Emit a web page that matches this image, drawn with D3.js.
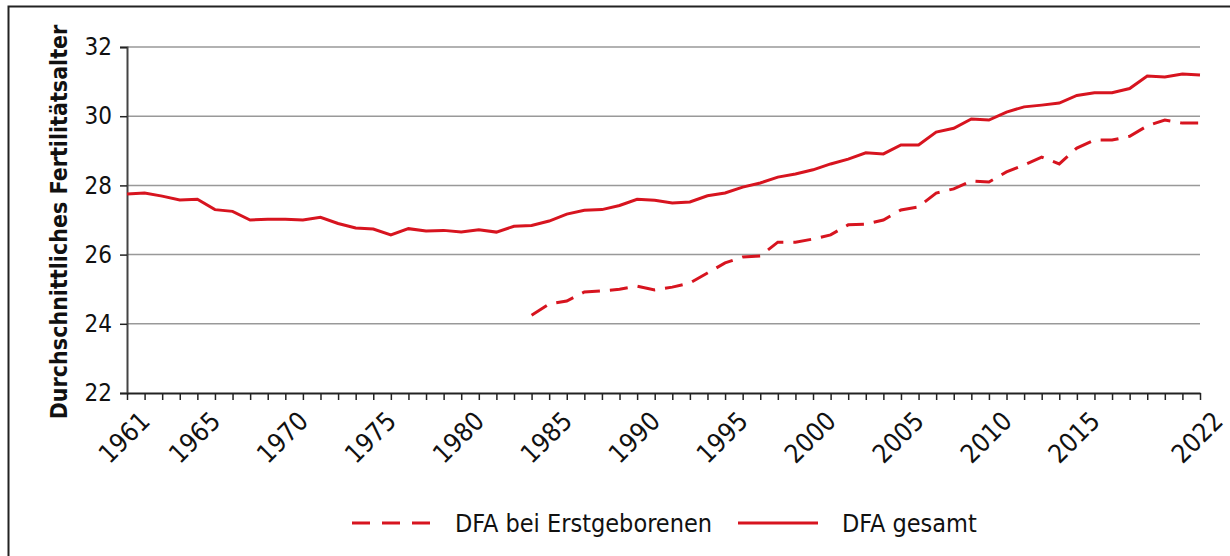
<!DOCTYPE html>
<html>
<head>
<meta charset="utf-8">
<script src="https://cdn.jsdelivr.net/npm/d3@7"></script>
<style>
  body { margin: 0; background: #fff; }
  text { font-family: "DejaVu Sans Condensed", "DejaVu Sans", sans-serif; fill: #111; }
</style>
</head>
<body>
<div id="chart"></div>
<script>
// Data
var years = d3.range(1961, 2023);
var dfaGesamt = [27.75, 27.78, 27.69, 27.58, 27.6, 27.3, 27.25, 27.0, 27.02, 27.02,
  27.0, 27.08, 26.9, 26.77, 26.74, 26.57, 26.75, 26.68, 26.7, 26.65,
  26.72, 26.65, 26.82, 26.84, 26.97, 27.17, 27.28, 27.3, 27.42, 27.6,
  27.57, 27.49, 27.52, 27.7, 27.78, 27.95, 28.07, 28.24, 28.33, 28.45,
  28.62, 28.76, 28.94, 28.91, 29.17, 29.17, 29.54, 29.65, 29.92, 29.89,
  30.12, 30.27, 30.32, 30.38, 30.6, 30.68, 30.68, 30.8, 31.16, 31.13,
  31.22, 31.19];
var ersteYears = d3.range(1984, 2023);
var dfaErste = [24.25, 24.57, 24.66, 24.92, 24.95, 25.0, 25.09, 24.98, 25.06, 25.18,
  25.47, 25.76, 25.93, 25.96, 26.36, 26.36, 26.45, 26.57, 26.86, 26.88,
  27.0, 27.29, 27.38, 27.78, 27.9, 28.13, 28.1, 28.39, 28.59, 28.82,
  28.62, 29.08, 29.31, 29.31, 29.42, 29.72, 29.89, 29.8, 29.8];
var yTicks = [22, 24, 26, 28, 30, 32];
var xLabels = [1961, 1965, 1970, 1975, 1980, 1985, 1990, 1995, 2000, 2005, 2010, 2015, 2022];

var svgWidth = 1230;
var svgHeight = 556;
var margin = { top: 47, right: 30, bottom: 163, left: 127 };
var width = svgWidth - margin.left - margin.right;
var height = svgHeight - margin.top - margin.bottom;
var red = "#d7141f";

var svg = d3.select("#chart")
  .append("svg")
  .attr("width", svgWidth)
  .attr("height", svgHeight);

// outer frame (open on right and bottom)
svg.append("path")
  .attr("d", "M8.5,560 V6.5 H1232")
  .attr("fill", "none")
  .attr("stroke", "#222")
  .attr("stroke-width", 2);

var chartGroup = svg.append("g")
  .attr("transform", `translate(${margin.left}, ${margin.top})`);

var x = d3.scaleLinear().domain([1961, 2022]).range([0, width]);
var y = d3.scaleLinear().domain([22, 32]).range([height, 0]);

// gridlines
chartGroup.selectAll(".grid")
  .data(yTicks.filter(d => d > 22))
  .enter()
  .append("line")
  .attr("x1", 0)
  .attr("x2", width)
  .attr("y1", d => y(d))
  .attr("y2", d => y(d))
  .attr("stroke", "#999")
  .attr("stroke-width", 1.5);

// y axis
var leftAxis = d3.axisLeft(y).tickValues(yTicks).tickSize(7).tickPadding(8);
var yAxis = chartGroup.append("g").call(leftAxis);
yAxis.select(".domain").attr("stroke", "#444").attr("stroke-width", 2);
yAxis.selectAll(".tick line").attr("stroke", "#222").attr("stroke-width", 1.5);
yAxis.selectAll("text").style("font-size", "24px").attr("fill", "#111");

// x axis
var bottomAxis = d3.axisBottom(x).tickValues(years).tickSize(7).tickSizeOuter(0)
  .tickFormat(d => xLabels.indexOf(d) >= 0 ? d : "");
var xAxis = chartGroup.append("g")
  .attr("transform", `translate(0, ${height})`)
  .call(bottomAxis);
xAxis.select(".domain").attr("stroke", "#222").attr("stroke-width", 2);
xAxis.selectAll(".tick line").attr("stroke", "#222").attr("stroke-width", 1.5);
xAxis.selectAll("text")
  .style("font-size", "26px")
  .attr("fill", "#111")
  .attr("text-anchor", "end")
  .attr("y", 6)
  .attr("dy", 32)
  .attr("dx", -4)
  .attr("transform", "rotate(-45)");

// y axis label
chartGroup.append("text")
  .attr("transform", "rotate(-90)")
  .attr("x", -height / 2 - 2)
  .attr("y", -60)
  .attr("text-anchor", "middle")
  .style("font-size", "23px")
  .style("font-weight", "bold")
  .text("Durchschnittliches Fertilitätsalter");

// lines
var lineGen = function(xs) {
  return d3.line()
    .x((d, i) => x(xs[i]))
    .y(d => y(d));
};

chartGroup.append("path")
  .datum(dfaGesamt)
  .attr("d", lineGen(years))
  .attr("fill", "none")
  .attr("stroke", red)
  .attr("stroke-width", 3);

chartGroup.append("path")
  .datum(dfaErste)
  .attr("d", lineGen(ersteYears))
  .attr("fill", "none")
  .attr("stroke", red)
  .attr("stroke-width", 3)
  .attr("stroke-dasharray", "18,10");

// legend
var legend = svg.append("g").attr("transform", "translate(0, 523)");
legend.append("line")
  .attr("x1", 352).attr("x2", 430).attr("y1", 0).attr("y2", 0)
  .attr("stroke", red).attr("stroke-width", 3).attr("stroke-dasharray", "18,12");
legend.append("text")
  .attr("x", 455).attr("y", 0).attr("dy", "0.35em")
  .style("font-size", "25px")
  .text("DFA bei Erstgeborenen");
legend.append("line")
  .attr("x1", 738).attr("x2", 818).attr("y1", 0).attr("y2", 0)
  .attr("stroke", red).attr("stroke-width", 3);
legend.append("text")
  .attr("x", 842).attr("y", 0).attr("dy", "0.35em")
  .style("font-size", "25px")
  .text("DFA gesamt");
</script>
</body>
</html>
